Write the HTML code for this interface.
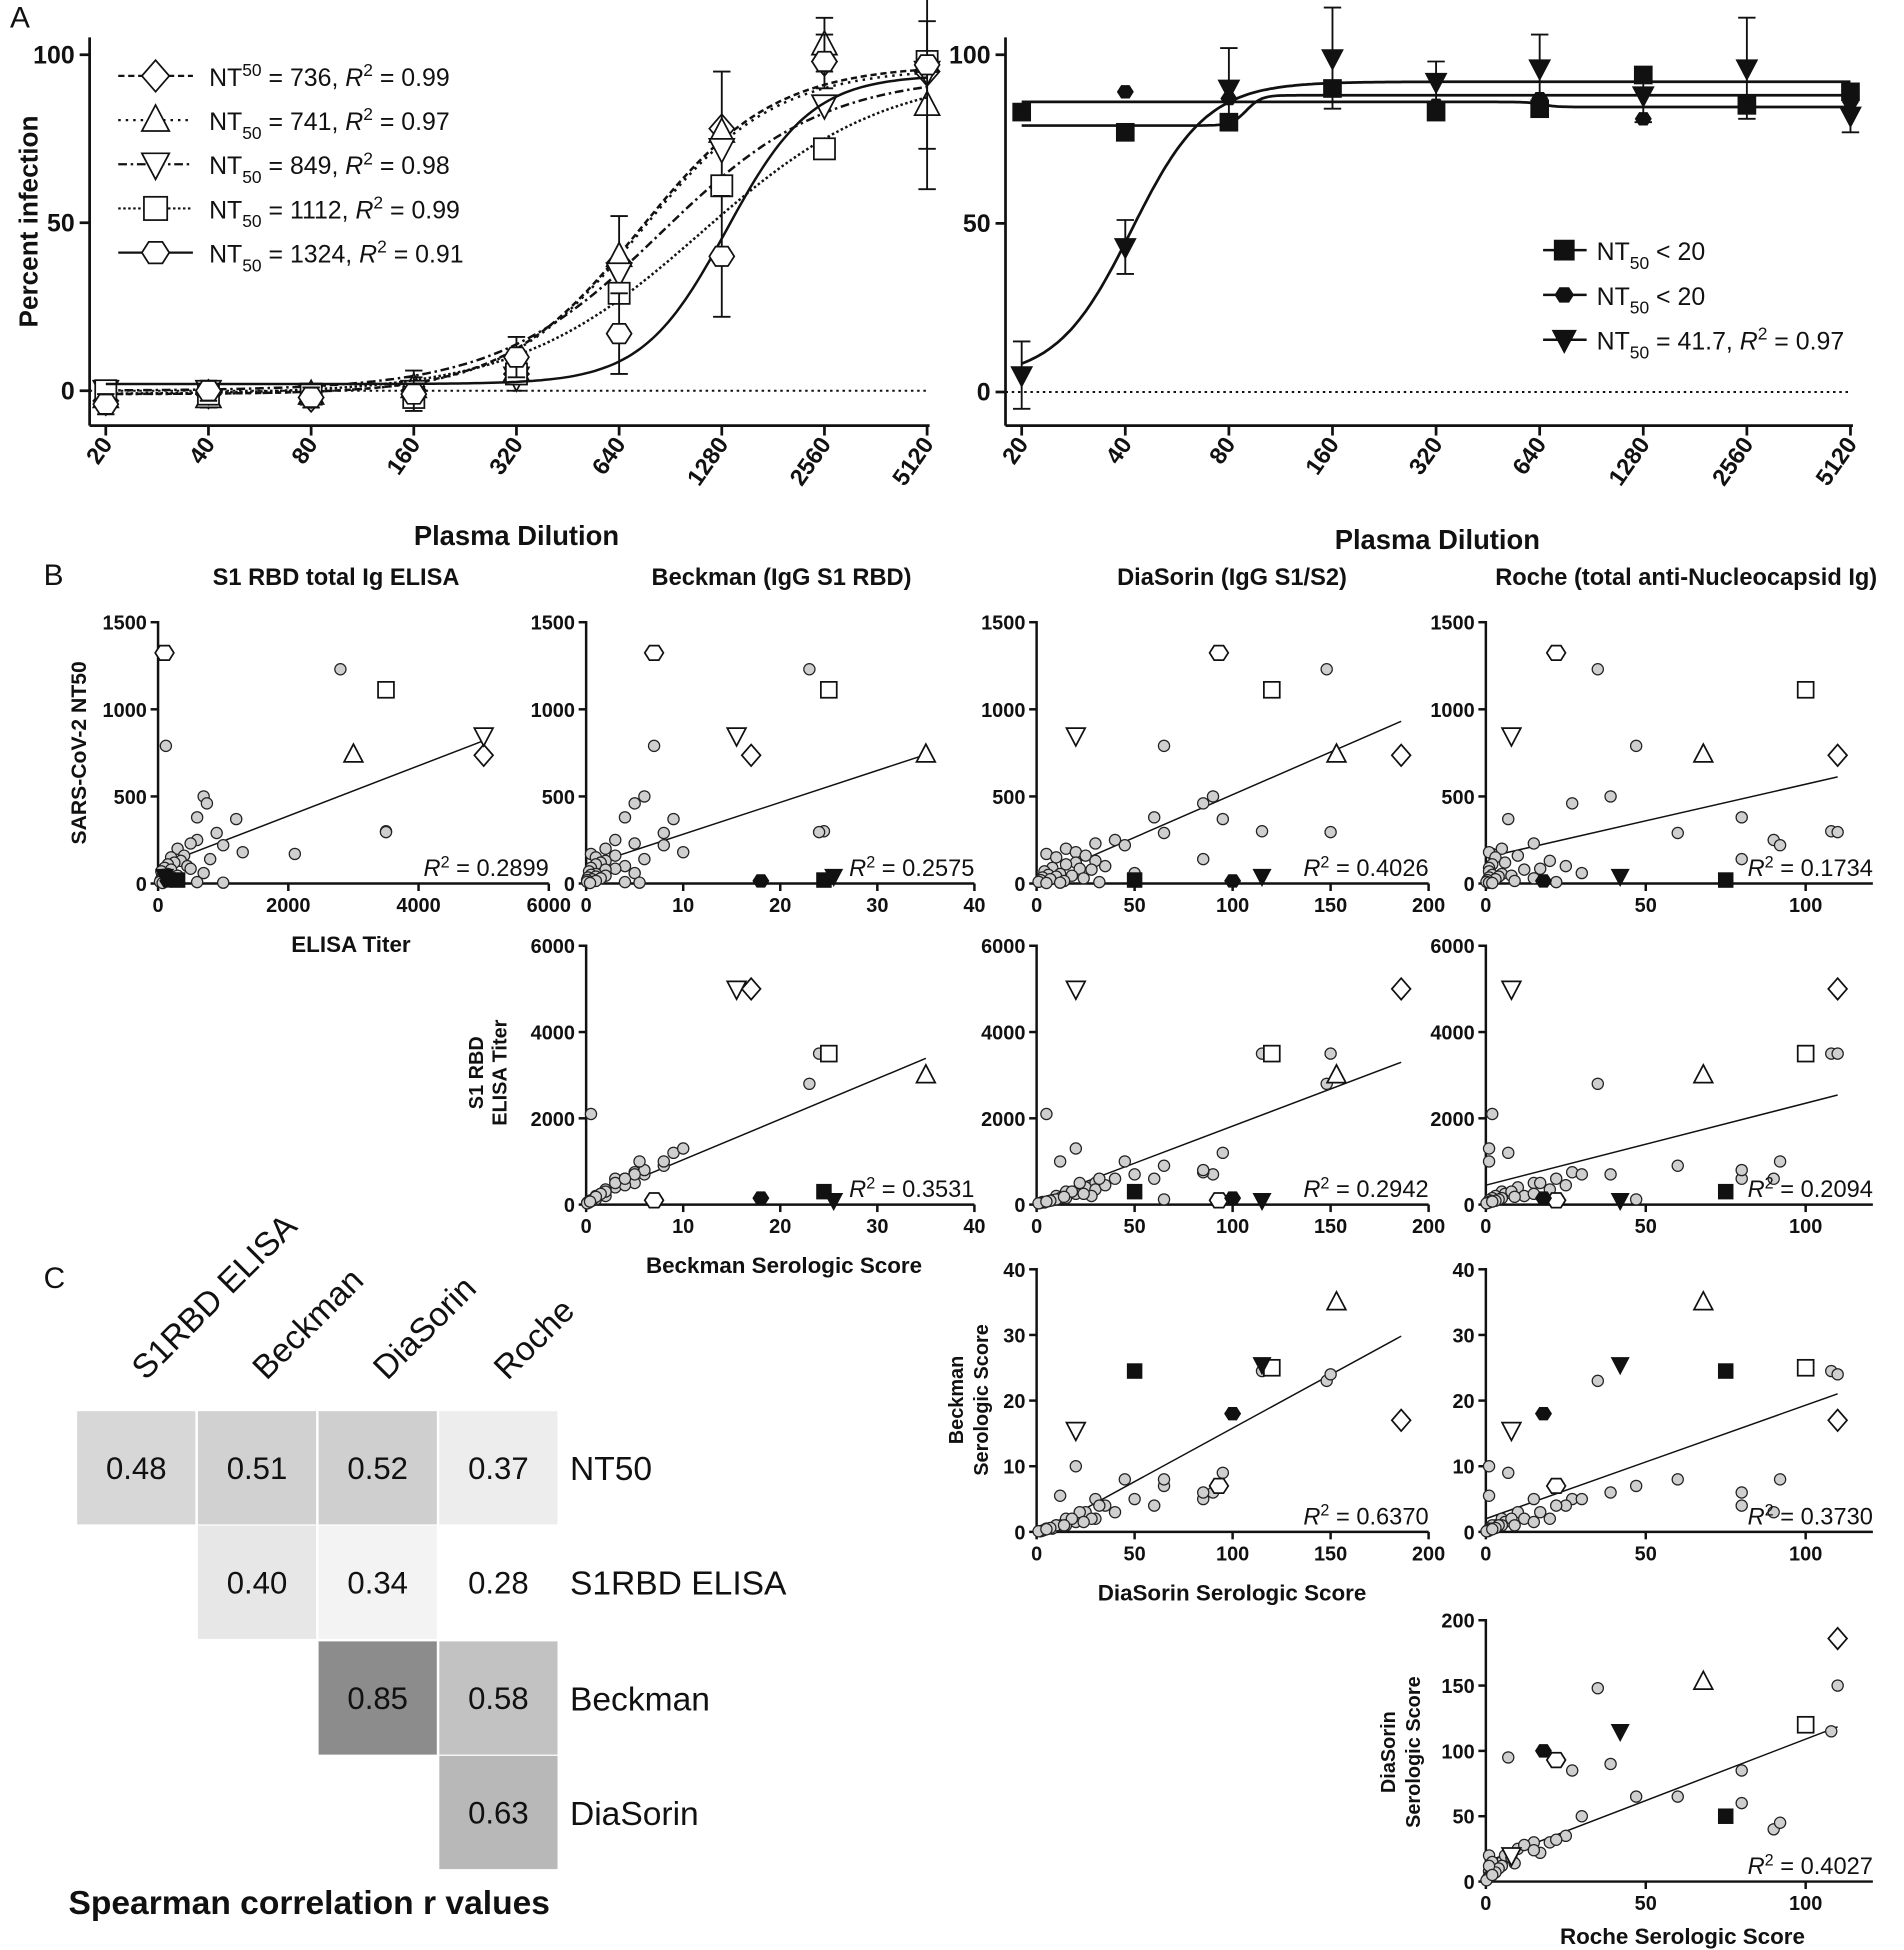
<!DOCTYPE html>
<html><head><meta charset="utf-8">
<style>
html,body{margin:0;padding:0;background:#fff;}
svg{display:block;font-family:"Liberation Sans",Arial,sans-serif;}
</style></head>
<body>
<svg id="fig" width="1904" height="1950" viewBox="0 0 1530 1567" xmlns="http://www.w3.org/2000/svg"></svg>
<script>
// ---------- DATA ----------
const dilutions = [20,40,80,160,320,640,1280,2560,5120];
const dilutionLabels = ["20","40","80","160","320","640","1280","2560","5120"];
const leftNames = ["diamond","triangle","downtri","square","hexagon"];
const leftNT50 = [736,741,849,1112,1324];
const leftR2 = ["0.99","0.97","0.98","0.99","0.91"];
const leftBottom = [-1,-1,0,-1,2];
const leftTop = [97,96,94,95,94];
const leftHill = [2.2,2.2,1.8,1.6,3.5];
const leftDiamond = [-3,-1,-2,0,5,38,78,98,95];
const leftTriangle = [-2,-2,-1,1,6,40,77,103,85];
const leftDowntri = [0,0,-1,0,4,35,72,85,95];
const leftSquare = [0,-1,-1,-2,5,29,61,72,98];
const leftHexagon = [-4,0,-2,-1,10,17,40,98,97];
const leftErr = [3,3,3,5,6,12,18,8,25];
const rightNames = ["square","hexagon","downtri"];
const rightSquare = [83,77,80,90,83,84,94,85,89];
const rightHexagon = [83,89,87,90,85,87,81,85,86];
const rightDowntri = [5,43,90,99,92,96,88,96,82];
const rightBottom = [86,79,4];
const rightTop = [84.5,88,92];
const rightMid = [650,90,41.7];
const rightHill = [20,20,4];
const rightErr = [10,8,12,15,6,10,8,15,5];
// subjects: [elisa, beckman, diasorin, roche, nt50]
const greySubjects = [
[120,7,65,47,790],[2800,23,148,35,1230],[700,6,90,39,500],[750,5,85,27,460],
[600,4,60,80,380],[1200,9,95,7,370],[3500,24.5,115,108,300],[3500,24,150,110,295],
[900,8,65,60,290],[2100,0.5,5,2,170],[600,3,40,90,250],[500,5,30,15,230],
[1000,8,45,92,220],[300,2,15,5,200],[1300,10,20,1,180],[400,3,25,10,160],
[200,1,10,3,150],[800,6,85,80,140],[350,2,30,20,130],[250,1.5,20,6,120],
[150,1,15,2,110],[450,4,35,25,100],[100,0.5,8,1,90],[500,3,22,17,85],
[200,2,28,12,80],[50,0.3,4,1,70],[700,5,50,30,60],[150,1,12,5,55],
[80,0.5,6,2,50],[300,2,18,8,45],[120,1,10,4,40],[60,0.2,3,1,35],
[250,1.5,24,15,30],[90,0.6,7,3,25],[40,0.1,2,0.5,20],[180,1,14,9,15],
[30,0.1,1,0.2,10],[600,4,32,22,8],[1000,5.5,12,1,5],[70,0.4,5,2,3]];
const specialKinds = ["diamond","triangle","downtri","square","hexagon","square","hexagon","downtri"];
const specialFilled = [false,false,false,false,false,true,true,true];
const specialSubjects = [
[5000,17,186,110,736],[3000,35,153,68,741],[5000,15.5,20,8,849],[3500,25,120,100,1112],
[100,7,93,22,1324],[300,24.5,50,75,20],[150,18,100,18,15],[100,25.5,115,42,42]];
// regressions [intercept, slope]
const regNT50 = [[100,0.144],[100,18.3],[20,4.9],[150,4.2]];
const regElisa = [[100,94],[100,17.2],[450,19]];
const regBeck = [[-0.5,0.163],[2,0.173]];
const regDia = [[15,0.94]];
const r2Labels = ["0.2899","0.2575","0.4026","0.1734","0.3531","0.2942","0.2094","0.6370","0.3730","0.4027"];
const heatVals = [[0.48,0.51,0.52,0.37],[null,0.40,0.34,0.28],[null,null,0.85,0.58],[null,null,null,0.63]];
const heatRowLabels = ["NT50","S1RBD ELISA","Beckman","DiaSorin"];
const heatColLabels = ["S1RBD ELISA","Beckman","DiaSorin","Roche"];

// ---------- HELPERS ----------
const svg = document.getElementById('fig');
const NS = "http://www.w3.org/2000/svg";
function mk(tag, attrs, parent){
  const e = document.createElementNS(NS, tag);
  for (const k in attrs) e.setAttribute(k, attrs[k]);
  (parent||svg).appendChild(e);
  return e;
}
function txt(x,y,s,size,opts,parent){
  const o = Object.assign({x:x,y:y,'font-size':size,fill:'#111'},opts||{});
  const e = mk('text',o,parent);
  e.textContent = s;
  return e;
}
function marker(kind, cx, cy, r, filled, parent){
  const fill = filled ? '#111' : '#fff';
  const st = {fill:fill, stroke:'#111','stroke-width':1.4};
  let e;
  if (kind==='diamond') e = mk('polygon',Object.assign({points:`${cx},${cy-r*1.15} ${cx+r},${cy} ${cx},${cy+r*1.15} ${cx-r},${cy}`},st),parent);
  else if (kind==='triangle') e = mk('polygon',Object.assign({points:`${cx},${cy-r*1.1} ${cx+r},${cy+r*0.8} ${cx-r},${cy+r*0.8}`},st),parent);
  else if (kind==='downtri') e = mk('polygon',Object.assign({points:`${cx},${cy+r*1.1} ${cx+r},${cy-r*0.8} ${cx-r},${cy-r*0.8}`},st),parent);
  else if (kind==='square') e = mk('rect',Object.assign({x:cx-r*0.85,y:cy-r*0.85,width:r*1.7,height:r*1.7},st),parent);
  else if (kind==='hexagon'){
    let p=[];for(let i=0;i<6;i++){const a=Math.PI/3*i;p.push((cx+r*Math.cos(a)).toFixed(1)+','+(cy+r*0.9*Math.sin(a)).toFixed(1));}
    e = mk('polygon',Object.assign({points:p.join(' ')},st),parent);
  } else e = mk('circle',Object.assign({cx:cx,cy:cy,r:r},st),parent);
  return e;
}

// ---------- PANEL A ----------
const lx = v => 85 + Math.log2(v/20)*82.5;
const ly = v => 314 - v*2.7;
const rx = v => 821 + Math.log2(v/20)*83.25;
const ry = v => 315 - v*2.71;
const dash = ["5,3","2,4","7,3,2,3","2,2",""];
const leftData = [leftDiamond,leftTriangle,leftDowntri,leftSquare,leftHexagon];
const rightData = [rightSquare,rightHexagon,rightDowntri];

function doseAxes(X, Y, y0px, x0, name){
  const g = mk('g',{});
  
  
  mk('line',{x1:x0,y1:30,x2:x0,y2:342,stroke:'#111','stroke-width':2.2},g);
  mk('line',{x1:x0,y1:342,x2:X(5120)+2,y2:342,stroke:'#111','stroke-width':2.2},g);
  [0,50,100].forEach(v=>{
    mk('line',{x1:x0-8,y1:Y(v),x2:x0,y2:Y(v),stroke:'#111','stroke-width':2.2},g);
    txt(x0-12,Y(v)+7,String(v),20,{'text-anchor':'end','font-weight':'bold'},g);
  });
  dilutions.forEach((d,i)=>{
    mk('line',{x1:X(d),y1:342,x2:X(d),y2:350,stroke:'#111','stroke-width':2.2},g);
    txt(X(d)+6,357,dilutionLabels[i],19,{'text-anchor':'end','font-weight':'bold',transform:`rotate(-55 ${X(d)+6} 357)`},g);
  });
  mk('line',{x1:x0,y1:Y(0),x2:X(5120),y2:Y(0),stroke:'#111','stroke-width':1.6,'stroke-dasharray':'2,3'},g);
  return g;
}
doseAxes(lx,ly,314,72,'left-dose-axes');
doseAxes(rx,ry,315,808,'right-dose-axes');

function sigm(x,b,t,m,h){return b+(t-b)/(1+Math.pow(m/x,h));}
leftNames.forEach((nm,s)=>{
  let pts=[];
  for(let i=0;i<=200;i++){const d=20*Math.pow(2,8*i/200);pts.push(lx(d).toFixed(1)+','+ly(sigm(d,leftBottom[s],leftTop[s],leftNT50[s],leftHill[s])).toFixed(1));}
  const c = mk('polyline',{points:pts.join(' '),fill:'none',stroke:'#111','stroke-width':2,'stroke-dasharray':dash[s]});
  
  
  leftData[s].forEach((v,i)=>{
    if (s===1||s===4){
      const eb = mk('path',{d:`M${lx(dilutions[i])} ${ly(v-leftErr[i])}V${ly(v+leftErr[i])}M${lx(dilutions[i])-7} ${ly(v-leftErr[i])}h14M${lx(dilutions[i])-7} ${ly(v+leftErr[i])}h14`,stroke:'#111','stroke-width':1.5,fill:'none'});
      
      
    }
    const m = marker(nm, lx(dilutions[i]), ly(v), 10, false);
    
    
  });
});
rightNames.forEach((nm,s)=>{
  let pts=[];
  for(let i=0;i<=300;i++){const d=20*Math.pow(2,8*i/300);pts.push(rx(d).toFixed(1)+','+ry(sigm(d,rightBottom[s],rightTop[s],rightMid[s],rightHill[s])).toFixed(1));}
  const c = mk('polyline',{points:pts.join(' '),fill:'none',stroke:'#111','stroke-width':2.2});
  
  
  rightData[s].forEach((v,i)=>{
    if (s===2){
      const eb = mk('path',{d:`M${rx(dilutions[i])} ${ry(v-rightErr[i])}V${ry(v+rightErr[i])}M${rx(dilutions[i])-7} ${ry(v-rightErr[i])}h14M${rx(dilutions[i])-7} ${ry(v+rightErr[i])}h14`,stroke:'#111','stroke-width':1.5,fill:'none'});
      
      
    }
    const m = marker(nm, rx(dilutions[i]), ry(v), nm==='hexagon'?6:8, true);
    
    
  });
});
// legends
const lg = mk('g',{});


leftNames.forEach((nm,s)=>{
  const y = 61 + s*35.5;
  mk('line',{x1:95,y1:y,x2:155,y2:y,stroke:'#111','stroke-width':1.8,'stroke-dasharray':dash[s]},lg);
  marker(nm,125,y,11,false,lg);
  const t = txt(168,y+8,'',20,{},lg);
  t.innerHTML = (s===0?'NT<tspan dy="-8" font-size="14">50</tspan><tspan dy="8">':'NT<tspan dy="7" font-size="14">50</tspan><tspan dy="-7">')+' = '+leftNT50[s]+', </tspan><tspan font-style="italic">R</tspan><tspan dy="-8" font-size="14">2</tspan><tspan dy="8"> = '+leftR2[s]+'</tspan>';
});
const rg = mk('g',{});


const rlab = ['&lt; 20','&lt; 20',' = 41.7, '];
rightNames.forEach((nm,s)=>{
  const y = 201 + s*36;
  mk('line',{x1:1240,y1:y,x2:1275,y2:y,stroke:'#111','stroke-width':2},rg);
  marker(nm,1257,y,nm==='hexagon'?7:9,true,rg);
  const t = txt(1283,y+8,'',20,{},rg);
  t.innerHTML = 'NT<tspan dy="7" font-size="14">50</tspan><tspan dy="-7"> '+rlab[s]+'</tspan>'+(s===2?'<tspan font-style="italic">R</tspan><tspan dy="-8" font-size="14">2</tspan><tspan dy="8"> = 0.97</tspan>':'');
});
txt(8,22,'A',24,{});
txt(30,178,'Percent infection',21,{'font-weight':'bold','text-anchor':'middle',transform:'rotate(-90 30 178)'});
txt(415,438,'Plasma Dilution',22,{'font-weight':'bold','text-anchor':'middle'});
txt(1155,441,'Plasma Dilution',22,{'font-weight':'bold','text-anchor':'middle'});

// ---------- PANEL B ----------
const cols = [{x0:127,x1:441,max:6000,ticks:[0,2000,4000,6000],end:441,key:0},
              {x0:471,x1:783,max:40,ticks:[0,10,20,30,40],end:783,key:1},
              {x0:833,x1:1148,max:200,ticks:[0,50,100,150,200],end:1148,key:2},
              {x0:1194,x1:1451,max:100,ticks:[0,50,100],end:1505,key:3}];
const rows = [{y0:710,y1:500,max:1500,ticks:[0,500,1000,1500],key:4,reg:regNT50,c0:0},
              {y0:968,y1:760,max:6000,ticks:[0,2000,4000,6000],key:0,reg:regElisa,c0:1},
              {y0:1231,y1:1020,max:40,ticks:[0,10,20,30,40],key:1,reg:regBeck,c0:2},
              {y0:1512,y1:1302,max:200,ticks:[0,50,100,150,200],key:2,reg:regDia,c0:3}];
let r2i = 0;
rows.forEach((R,ri)=>{
  for(let ci=R.c0; ci<4; ci++){
    const C = cols[ci];
    const X = v => C.x0 + v/C.max*(C.x1-C.x0);
    const Y = v => R.y0 - v/R.max*(R.y0-R.y1);
    const g = mk('g',{});
    
    
    mk('line',{x1:C.x0,y1:R.y1-1,x2:C.x0,y2:R.y0,stroke:'#111','stroke-width':2},g);
    mk('line',{x1:C.x0,y1:R.y0,x2:C.end,y2:R.y0,stroke:'#111','stroke-width':2},g);
    R.ticks.forEach(v=>{
      mk('line',{x1:C.x0-6,y1:Y(v),x2:C.x0,y2:Y(v),stroke:'#111','stroke-width':2},g);
      txt(C.x0-9,Y(v)+6,String(v),16,{'text-anchor':'end','font-weight':'bold'},g);
    });
    C.ticks.forEach(v=>{
      mk('line',{x1:X(v),y1:R.y0,x2:X(v),y2:R.y0+6,stroke:'#111','stroke-width':2},g);
      txt(X(v),R.y0+23,String(v),16,{'text-anchor':'middle','font-weight':'bold'},g);
    });
    const reg = R.reg[ci-R.c0];
    let xe = 0;
    specialSubjects.concat(greySubjects).forEach(s=>{xe=Math.max(xe,s[C.key]);});
    const ln = mk('line',{x1:X(0),y1:Y(reg[0]),x2:X(xe),y2:Y(reg[0]+reg[1]*xe),stroke:'#111','stroke-width':1.2},g);
    
    
    greySubjects.forEach(s=>{
      const c = mk('circle',{cx:X(s[C.key]),cy:Y(s[R.key]),r:4.5,fill:'#cfcfcf',stroke:'#222','stroke-width':1},g);
      
      
    });
    specialSubjects.forEach((s,k)=>{
      const m = marker(specialKinds[k],X(s[C.key]),Y(s[R.key]),specialFilled[k]?(specialKinds[k]==='hexagon'?6:6.5):7.5,specialFilled[k],g);
      
      
    });
    const t = txt(C.end, R.y0-6, '', 19, {'text-anchor':'end'}, g);
    t.innerHTML = '<tspan font-style="italic">R</tspan><tspan dy="-7" font-size="13">2</tspan><tspan dy="7"> = '+r2Labels[r2i]+'</tspan>';
    
    r2i++;
  }
});
txt(35,470,'B',24,{});
txt(270,470,'S1 RBD total Ig ELISA',19,{'font-weight':'bold','text-anchor':'middle'});
txt(628,470,'Beckman (IgG S1 RBD)',19,{'font-weight':'bold','text-anchor':'middle'});
txt(990,470,'DiaSorin (IgG S1/S2)',19,{'font-weight':'bold','text-anchor':'middle'});
txt(1355,470,'Roche (total anti-Nucleocapsid Ig)',19,{'font-weight':'bold','text-anchor':'middle'});
txt(69,605,'SARS-CoV-2 NT50',17,{'font-weight':'bold','text-anchor':'middle',transform:'rotate(-90 69 605)'});
txt(282,765,'ELISA Titer',18,{'font-weight':'bold','text-anchor':'middle'});
txt(388,862,'S1 RBD',16,{'font-weight':'bold','text-anchor':'middle',transform:'rotate(-90 388 862)'});
txt(407,862,'ELISA Titer',16,{'font-weight':'bold','text-anchor':'middle',transform:'rotate(-90 407 862)'});
txt(630,1023,'Beckman Serologic Score',18,{'font-weight':'bold','text-anchor':'middle'});
txt(774,1125,'Beckman',16,{'font-weight':'bold','text-anchor':'middle',transform:'rotate(-90 774 1125)'});
txt(794,1125,'Serologic Score',16,{'font-weight':'bold','text-anchor':'middle',transform:'rotate(-90 794 1125)'});
txt(990,1286,'DiaSorin Serologic Score',18,{'font-weight':'bold','text-anchor':'middle'});
txt(1121,1408,'DiaSorin',16,{'font-weight':'bold','text-anchor':'middle',transform:'rotate(-90 1121 1408)'});
txt(1141,1408,'Serologic Score',16,{'font-weight':'bold','text-anchor':'middle',transform:'rotate(-90 1141 1408)'});
txt(1352,1562,'Roche Serologic Score',18,{'font-weight':'bold','text-anchor':'middle'});

// ---------- PANEL C ----------
txt(35,1035,'C',24,{});
const cellX = [62,159,256,353], cellY = [1134,1226,1319,1411], cw=95, ch=91;
function grey(v){const l = Math.round(255 - (v-0.28)/(0.85-0.28)*115); return `rgb(${l},${l},${l})`;}
heatVals.forEach((row,ri)=>{
  row.forEach((v,ci)=>{
    if (v===null) return;
    const r = mk('rect',{x:cellX[ci],y:cellY[ri],width:cw,height:ch,fill:v<=0.28?'#fff':grey(v)});
    
    
    txt(cellX[ci]+cw/2,cellY[ri]+ch/2+9,v.toFixed(2),25,{'text-anchor':'middle'});
  });
  txt(458,cellY[ri]+ch/2+10,heatRowLabels[ri],27,{});
});
heatColLabels.forEach((s,ci)=>{
  const x = cellX[ci]+55, y = 1110;
  txt(x,y,s,27,{transform:`rotate(-45 ${x} ${y})`});
});
txt(55,1538,'Spearman correlation r values',27,{'font-weight':'bold'});
</script>
</body></html>
